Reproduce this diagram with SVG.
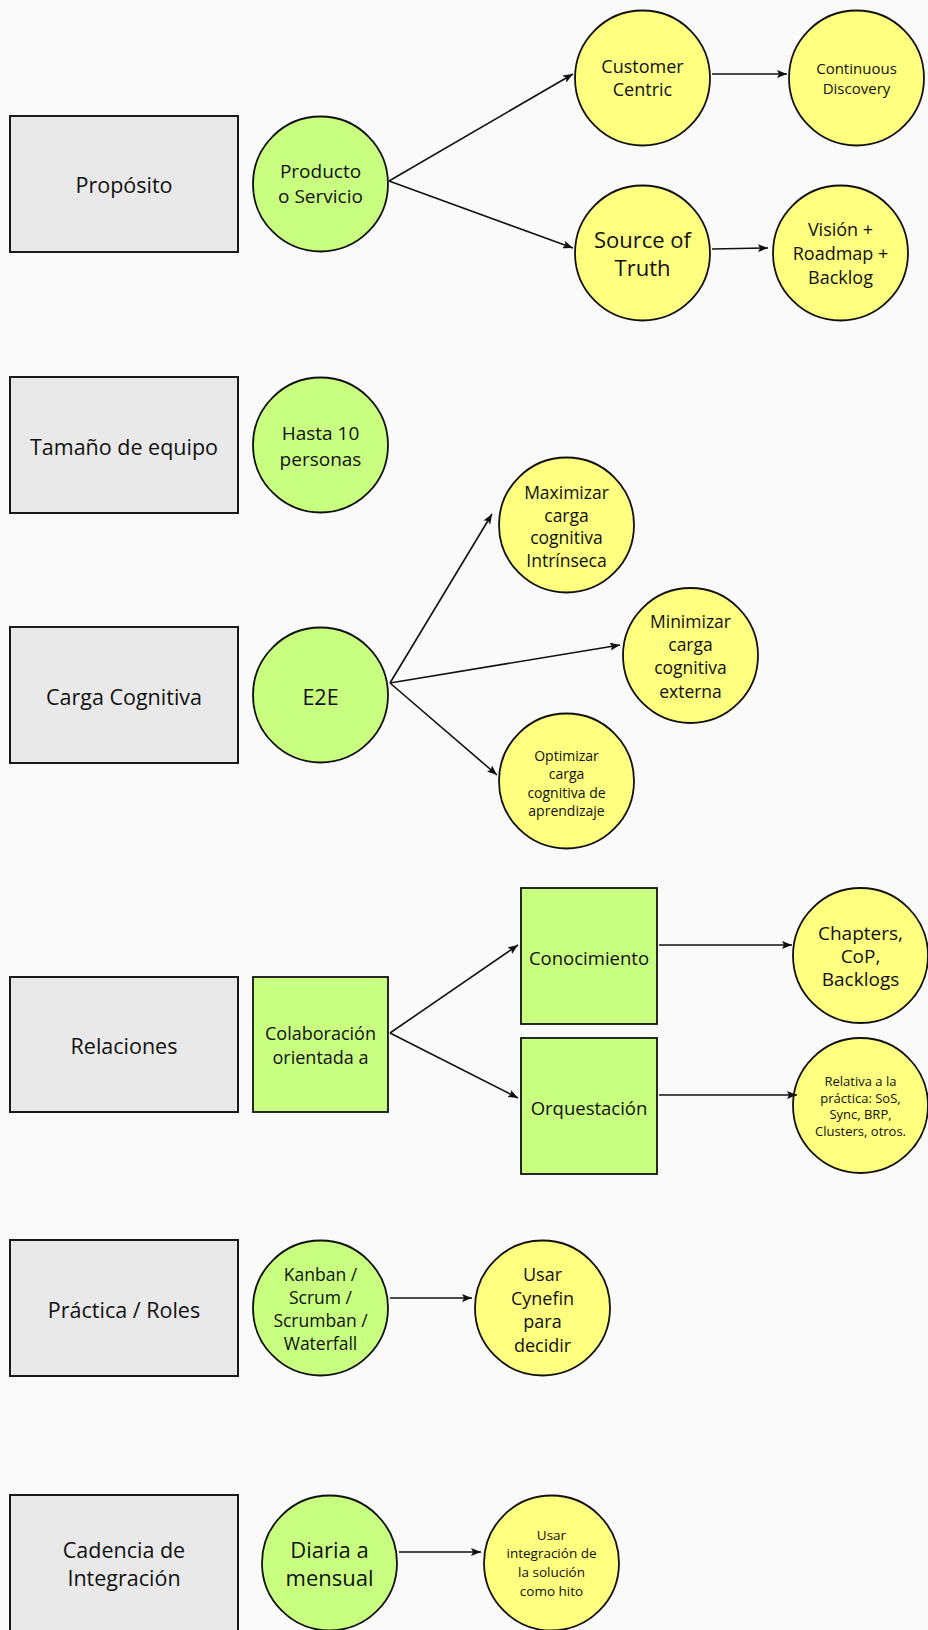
<svg xmlns="http://www.w3.org/2000/svg" width="928" height="1630" viewBox="0 0 928 1630">
<style>
.bg{fill:#fafafa}
.lbl{fill:#e9e9e9;stroke:#1a1a1a;stroke-width:2}
.g{fill:#c8ff80;stroke:#111;stroke-width:1.8}
.y{fill:#ffff80;stroke:#111;stroke-width:1.8}
text{font-family:"Open Sans",Lato,"Liberation Sans",sans-serif;fill:#111;text-anchor:middle;dominant-baseline:central}
.c line{stroke:#111;stroke-width:1.6;marker-end:url(#ah)}
</style>
<defs>
<marker id="ah" viewBox="0 0 10 8" refX="10" refY="4" markerWidth="10" markerHeight="8" markerUnits="userSpaceOnUse" orient="auto">
<path d="M0,0 L10,4 L0,8 L2,4 Z" fill="#111"/>
</marker>
</defs>
<rect class="bg" x="0" y="0" width="928" height="1630"/>

<g id="proposito"><rect class="lbl" x="10" y="116" width="228" height="136"/><text x="124" y="184" font-size="21.5">Propósito</text></g>
<g id="producto"><circle class="g" cx="320.5" cy="184" r="67.5"/><text x="320.5" y="171" font-size="19">Producto</text><text x="320.5" y="196" font-size="19">o Servicio</text></g>
<g id="customer"><circle class="y" cx="642.5" cy="78" r="67.5"/><text x="642.5" y="66" font-size="18">Customer</text><text x="642.5" y="89" font-size="18">Centric</text></g>
<g id="continuous"><circle class="y" cx="856.5" cy="78" r="67.5"/><text x="856.5" y="68" font-size="15">Continuous</text><text x="856.5" y="88" font-size="15">Discovery</text></g>
<g id="source"><circle class="y" cx="642.5" cy="253" r="67.5"/><text x="642.5" y="239" font-size="22">Source of</text><text x="642.5" y="267" font-size="22">Truth</text></g>
<g id="vision"><circle class="y" cx="840.5" cy="253" r="67.5"/><text x="840.5" y="229" font-size="18">Visión +</text><text x="840.5" y="253" font-size="18">Roadmap +</text><text x="840.5" y="277" font-size="18">Backlog</text></g>

<g id="tamano"><rect class="lbl" x="10" y="377" width="228" height="136"/><text x="124" y="446" font-size="21.5">Tamaño de equipo</text></g>
<g id="hasta"><circle class="g" cx="320.5" cy="445" r="67.5"/><text x="320.5" y="433" font-size="19">Hasta 10</text><text x="320.5" y="459" font-size="19">personas</text></g>

<g id="carga"><rect class="lbl" x="10" y="627" width="228" height="136"/><text x="124" y="696" font-size="21.5">Carga Cognitiva</text></g>
<g id="e2e"><circle class="g" cx="320.5" cy="695" r="67.5"/><text x="320.5" y="696" font-size="21.5">E2E</text></g>
<g id="maximizar"><circle class="y" cx="566.5" cy="525" r="67.5"/><text x="566.5" y="492" font-size="17.5">Maximizar</text><text x="566.5" y="515" font-size="17.5">carga</text><text x="566.5" y="537" font-size="17.5">cognitiva</text><text x="566.5" y="560" font-size="17.5">Intrínseca</text></g>
<g id="minimizar"><circle class="y" cx="690.5" cy="655.5" r="67.5"/><text x="690.5" y="621" font-size="17.5">Minimizar</text><text x="690.5" y="644" font-size="17.5">carga</text><text x="690.5" y="667" font-size="17.5">cognitiva</text><text x="690.5" y="691" font-size="17.5">externa</text></g>
<g id="optimizar"><circle class="y" cx="566.5" cy="781" r="67.5"/><text x="566.5" y="755" font-size="14">Optimizar</text><text x="566.5" y="773" font-size="14">carga</text><text x="566.5" y="792" font-size="14">cognitiva de</text><text x="566.5" y="810" font-size="14">aprendizaje</text></g>

<g id="relaciones"><rect class="lbl" x="10" y="977" width="228" height="135"/><text x="124" y="1045" font-size="21.5">Relaciones</text></g>
<g id="colaboracion"><rect class="g" x="253" y="977" width="135" height="135"/><text x="320.5" y="1033" font-size="18">Colaboración</text><text x="320.5" y="1057" font-size="18">orientada a</text></g>
<g id="conocimiento"><rect class="g" x="521" y="888" width="136" height="136"/><text x="589" y="957" font-size="18.5">Conocimiento</text></g>
<g id="orquestacion"><rect class="g" x="521" y="1038" width="136" height="136"/><text x="589" y="1107" font-size="18.5">Orquestación</text></g>
<g id="chapters"><circle class="y" cx="860.5" cy="955.5" r="67.5"/><text x="860.5" y="933" font-size="19">Chapters,</text><text x="860.5" y="956" font-size="19">CoP,</text><text x="860.5" y="979" font-size="19">Backlogs</text></g>
<g id="relativa"><circle class="y" cx="860.5" cy="1105.5" r="67.5"/><text x="860.5" y="1081" font-size="13">Relativa a la</text><text x="860.5" y="1098" font-size="13">práctica: SoS,</text><text x="860.5" y="1114" font-size="13">Sync, BRP,</text><text x="860.5" y="1131" font-size="13">Clusters, otros.</text></g>

<g id="practica"><rect class="lbl" x="10" y="1240" width="228" height="136"/><text x="124" y="1309" font-size="21.5">Práctica / Roles</text></g>
<g id="kanban"><circle class="g" cx="320.5" cy="1308" r="67.5"/><text x="320.5" y="1274" font-size="17.5">Kanban /</text><text x="320.5" y="1297" font-size="17.5">Scrum /</text><text x="320.5" y="1320" font-size="17.5">Scrumban /</text><text x="320.5" y="1343" font-size="17.5">Waterfall</text></g>
<g id="cynefin"><circle class="y" cx="542.5" cy="1308" r="67.5"/><text x="542.5" y="1274" font-size="18">Usar</text><text x="542.5" y="1297.5" font-size="18">Cynefin</text><text x="542.5" y="1321" font-size="18">para</text><text x="542.5" y="1344.5" font-size="18">decidir</text></g>

<g id="cadencia"><rect class="lbl" x="10" y="1495" width="228" height="137"/><text x="124" y="1549" font-size="21.5">Cadencia de</text><text x="124" y="1577" font-size="21.5">Integración</text></g>
<g id="diaria"><circle class="g" cx="329.5" cy="1563" r="67.5"/><text x="329.5" y="1549" font-size="22">Diaria a</text><text x="329.5" y="1577" font-size="22">mensual</text></g>
<g id="usarint"><circle class="y" cx="551.5" cy="1563" r="67.5"/><text x="551.5" y="1535" font-size="13.5">Usar</text><text x="551.5" y="1553" font-size="13.5">integración de</text><text x="551.5" y="1572" font-size="13.5">la solución</text><text x="551.5" y="1591" font-size="13.5">como hito</text></g>

<g id="connectors" class="c">
<line x1="389" y1="181" x2="573" y2="74"/>
<line x1="389" y1="181" x2="573" y2="248"/>
<line x1="712" y1="74" x2="787" y2="74"/>
<line x1="712" y1="249" x2="768" y2="248"/>
<line x1="390" y1="683" x2="492" y2="514"/>
<line x1="390" y1="683" x2="620" y2="645"/>
<line x1="390" y1="683" x2="497" y2="775"/>
<line x1="390" y1="1033" x2="518" y2="945"/>
<line x1="390" y1="1033" x2="518" y2="1098"/>
<line x1="659" y1="945" x2="792" y2="945"/>
<line x1="659" y1="1095" x2="797" y2="1095"/>
<line x1="390" y1="1298" x2="472" y2="1298"/>
<line x1="399" y1="1552" x2="481" y2="1552"/>
</g>
</svg>
